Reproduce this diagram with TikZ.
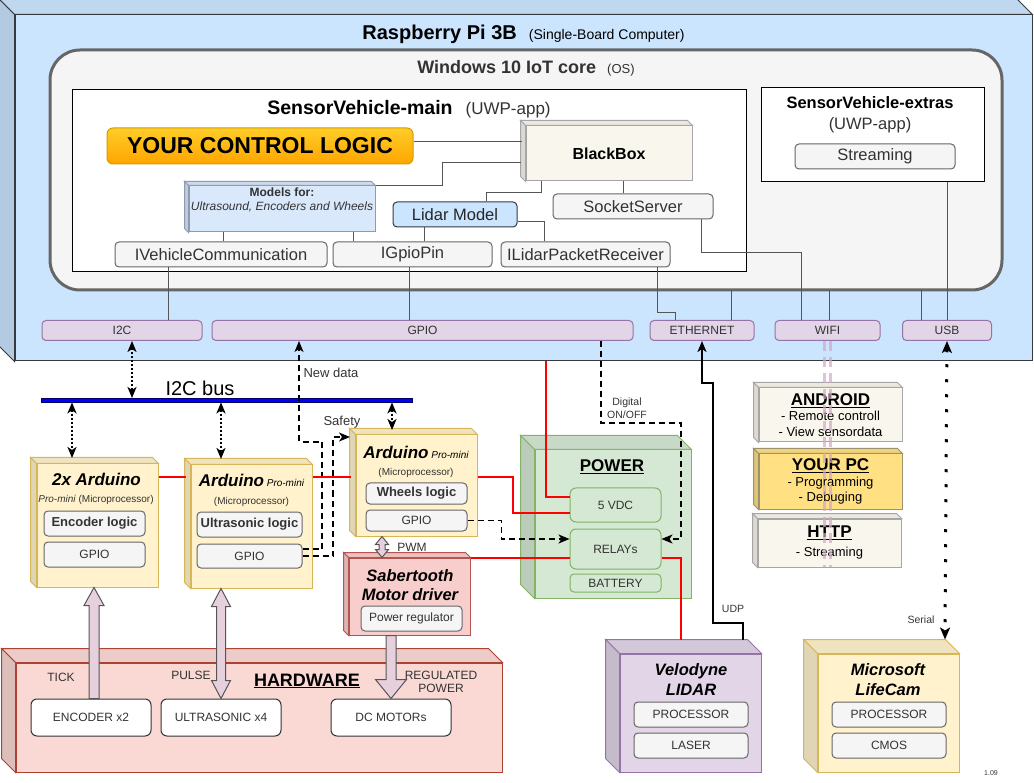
\documentclass[tikz,border=0pt]{standalone}
\usepackage{fontspec}
\setmainfont{Liberation Sans}
\usetikzlibrary{arrows.meta, positioning, calc}

\definecolor{rpifill}{HTML}{CCE5FF}
\definecolor{rpidraw}{HTML}{36393D}
\definecolor{osfill}{HTML}{F5F5F5}
\definecolor{osdraw}{HTML}{666666}
\definecolor{txtgrey}{HTML}{333333}
\definecolor{linkgrey}{HTML}{555555}
\definecolor{portfill}{HTML}{E1D5E7}
\definecolor{portdraw}{HTML}{9673A6}
\definecolor{ardfill}{HTML}{FFF2CC}
\definecolor{arddraw}{HTML}{D6B656}
\definecolor{sabfill}{HTML}{F8CECC}
\definecolor{sabdraw}{HTML}{B85450}
\definecolor{hwfill}{HTML}{FAD9D5}
\definecolor{hwdraw}{HTML}{AE4132}
\definecolor{pwrfill}{HTML}{D5E8D4}
\definecolor{pwrdraw}{HTML}{82B366}
\definecolor{bbfill}{HTML}{F9F7ED}
\definecolor{bbdraw}{HTML}{A6A6A6}
\definecolor{pcdraw}{HTML}{9C9270}
\definecolor{modfill}{HTML}{DAE8FC}
\definecolor{moddraw}{HTML}{8C9BAD}
\definecolor{pcfill}{HTML}{FFE083}
\definecolor{arrowfill}{HTML}{E6D0DE}
\definecolor{wifipink}{HTML}{D4A5C8}
\definecolor{logictop}{HTML}{FFCD28}
\definecolor{logicbot}{HTML}{FFA500}
\definecolor{logicdraw}{HTML}{D79B00}
\definecolor{busblue}{HTML}{0000FF}
\definecolor{busdark}{HTML}{000066}

\newcommand{\fsz}[2]{\fontsize{#1}{#2}\selectfont}

% side faces of a box drawn as a cube
\newcommand{\cubesides}[4]{%
  \draw[draw=#4, fill=#3!94!black] (#1.north west) -- ++(-#2,#2) -- ([shift={(-#2,#2)}]#1.north east) -- (#1.north east) -- cycle;
  \draw[draw=#4, fill=#3!88!black] (#1.north west) -- ++(-#2,#2) -- ([shift={(-#2,#2)}]#1.south west) -- (#1.south west) -- cycle;
}
% hollow block arrows
\newcommand{\fatarrow}[5]{%
  \draw[fatarrow] let \p1=(#1), \p2=(#2), \n1={sign(\y2-(\y1))} in
    (\x2,\y2) -- ({\x2+#4},{\y2-(\n1)*#5}) -- ({\x2+#3},{\y2-(\n1)*#5}) -- ({\x1+#3},\y1)
    -- ({\x1-#3},\y1) -- ({\x2-#3},{\y2-(\n1)*#5}) -- ({\x2-#4},{\y2-(\n1)*#5}) -- cycle;
}
\newcommand{\fatdouble}[5]{%
  \draw[fatarrow] let \p1=(#1), \p2=(#2), \n1={sign(\y2-(\y1))} in
    (\x2,\y2) -- ({\x2+#4},{\y2-(\n1)*#5}) -- ({\x2+#3},{\y2-(\n1)*#5}) -- ({\x1+#3},{\y1+(\n1)*#5})
    -- ({\x1+#4},{\y1+(\n1)*#5}) -- (\x1,\y1) -- ({\x1-#4},{\y1+(\n1)*#5}) -- ({\x1-#3},{\y1+(\n1)*#5})
    -- ({\x2-#3},{\y2-(\n1)*#5}) -- ({\x2-#4},{\y2-(\n1)*#5}) -- cycle;
}

\tikzstyle{face} = [rectangle, draw, inner sep=0pt]
\tikzstyle{sub} = [rectangle, rounded corners=4pt, draw=osdraw, fill=osfill, text=txtgrey, inner sep=0pt, minimum height=25pt]
\tikzstyle{port} = [rectangle, rounded corners=4pt, draw=portdraw, fill=portfill, text=txtgrey, inner sep=0pt, minimum height=20pt, font=\fsz{12}{14}]
\tikzstyle{pwrpart} = [rectangle, rounded corners=6pt, draw=pwrdraw, fill=pwrfill, text=txtgrey, inner sep=0pt, minimum width=91pt, font=\fsz{12}{14}]
\tikzstyle{hwpart} = [rectangle, rounded corners=6pt, draw=txtgrey, fill=white, text=txtgrey, inner sep=0pt, minimum width=120pt, minimum height=37pt, font=\fsz{12}{14}]
\tikzstyle{lbl} = [inner sep=0pt, text=txtgrey]
\tikzstyle{link} = [draw=linkgrey, line width=1pt]
\tikzstyle{power} = [draw=red, line width=2pt]
\tikzstyle{dataflow} = [draw=black, line width=1.8pt, dash pattern=on 6pt off 4pt, ->, >={Stealth[length=11pt, width=9pt, inset=3pt]}]
\tikzstyle{i2clink} = [draw=black, line width=2pt, dash pattern=on 2pt off 2pt, <->, >={Stealth[length=11pt, width=9pt, inset=3pt]}]
\tikzstyle{ethlink} = [draw=black, line width=2pt, ->, >={Stealth[length=11pt, width=9pt, inset=3pt]}]
\tikzstyle{serial} = [draw=black, line width=3pt, dash pattern=on 3pt off 12pt, <->, >={Stealth[length=12pt, width=10pt, inset=3pt]}]
\tikzstyle{wifilink} = [draw=wifipink, draw opacity=0.7, line width=3pt, dash pattern=on 10pt off 6pt]
\tikzstyle{fatarrow} = [draw=linkgrey, fill=arrowfill, line width=1pt]

\begin{document}
\begin{tikzpicture}[x=1pt, y=-1pt, line width=1pt]
\useasboundingbox (0,0) rectangle (1034,783);

	% Raspberry Pi
	\node (rpi) [face, draw=rpidraw, fill=rpifill, minimum width=1017pt, minimum height=346pt] at (523.5,188) {};
	\cubesides{rpi}{15pt}{rpifill}{rpidraw}
	\node (rpi_title) [lbl, text=black] at (523.5,34) {{\bfseries\fsz{20}{24}Raspberry Pi 3B}\hspace{12pt}{\fsz{14}{17}(Single-Board Computer)}};

	% OS
	\node (win) [face, rounded corners=30pt, draw=osdraw, fill=osfill, line width=3pt, minimum width=952pt, minimum height=240pt] at (526,170) {};
	\node (win_title) [lbl] at (526,68) {{\bfseries\fsz{18}{22}Windows 10 IoT core}\hspace{11pt}{\fsz{13}{16}(OS)}};

	% Main app
	\node (svmain) [face, draw=black, fill=white, minimum width=674pt, minimum height=182pt] at (409,181) {};
	\node (svmain_title) [lbl, text=black] at (409,109) {{\bfseries\fsz{19.5}{23}SensorVehicle-main}\hspace{13pt}{\color{txtgrey}\fsz{17}{20}(UWP-app)}};
	\node (logic) [face, rounded corners=6pt, draw=logicdraw, top color=logictop, bottom color=logicbot, minimum width=306pt, minimum height=36pt, font=\bfseries\fsz{23}{27}] at (260,146) {YOUR CONTROL LOGIC};
	\node (bb) [face, draw=bbdraw, fill=bbfill, minimum width=166pt, minimum height=55pt, font=\bfseries\fsz{16}{19}] at (609,153.5) {BlackBox};
	\cubesides{bb}{5pt}{bbfill}{bbdraw}
	\node (models) [face, draw=moddraw, fill=modfill, minimum width=186pt, minimum height=46pt] at (282,209) {};
	\cubesides{models}{4pt}{modfill}{moddraw}
	\node (models_txt) [lbl, align=center, font=\fsz{12}{14}] at (282,200) {{\bfseries Models for:}\\{\itshape Ultrasound, Encoders and Wheels}};
	\node (lidarmodel) [sub, draw=rpidraw, fill=rpifill, text=black!85, minimum width=124pt, font=\fsz{16.5}{19}] at (455,214.5) {Lidar Model};
	\node (socket) [sub, minimum width=160pt, font=\fsz{16.5}{19}] at (633,206.5) {SocketServer};
	\node (ivc) [sub, minimum width=212pt, font=\fsz{16.5}{19}] at (221,254.5) {IVehicleCommunication};
	\node (igpio) [sub, minimum width=159pt, font=\fsz{16.5}{19}] at (412.5,254.5) {IGpioPin};
	\node (ilidar) [sub, minimum width=169pt, font=\fsz{16.5}{19}] at (585.5,254.5) {ILidarPacketReceiver};

	% Extras app
	\node (extras) [face, draw=black, fill=white, minimum width=223pt, minimum height=94pt] at (872.5,135) {};
	\node (extras_title) [lbl, text=black, align=center, font=\fsz{16.5}{21}] at (870,114.5) {{\bfseries SensorVehicle-extras}\\{\color{txtgrey}(UWP-app)}};
	\node (streaming) [sub, minimum width=160pt, font=\fsz{16.5}{19}] at (875,156.5) {Streaming};

	% Ports
	\node (i2c) [port, minimum width=160pt] at (122,330.5) {I2C};
	\node (gpio) [port, minimum width=421pt] at (422.5,330.5) {GPIO};
	\node (eth) [port, minimum width=104pt] at (702,330.5) {ETHERNET};
	\node (wifi) [port, minimum width=105pt] at (827.5,330.5) {WIFI};
	\node (usb) [port, minimum width=89pt] at (947,330.5) {USB};

	% Software links
	\draw[link] ([yshift=4pt]logic.east) -- ++(108,0);
	\draw[link] (models.north east) -- ++(67,0) |- ([xshift=-5pt,yshift=-9.5pt]bb.west);
	\draw[link] ([xshift=-68pt]bb.south) -- ++(0,11) -| ([xshift=31pt]lidarmodel.north);
	\draw[link] ([xshift=14pt]bb.south) -- ([xshift=-10pt]socket.north);
	\draw[link] ([xshift=-59pt]models.south) -- ([xshift=2pt]ivc.north);
	\draw[link] ([xshift=71pt]models.south) -- ([xshift=-59.5pt]igpio.north);
	\draw[link] ([xshift=-31pt]lidarmodel.south) -- ([xshift=11.5pt]igpio.north);
	\draw[link] ([yshift=-7pt]lidarmodel.east) -| ([xshift=-41.5pt]ilidar.north);
	\draw[link] ([xshift=-53pt]ivc.south) -- ([xshift=46pt]i2c.north);
	\draw[link] ([xshift=-3.5pt]igpio.south) -- ([xshift=-13.5pt]gpio.north);
	\draw[link] ([xshift=71.5pt]ilidar.south) -- ++(0,45) -| ([xshift=-27pt]eth.north);
	\draw[link] ([xshift=68pt]socket.south) -- ++(0,33) -| ([xshift=-26.5pt]wifi.north);
	\draw[link] ([xshift=29pt]eth.north) -- ++(0,-30);
	\draw[link] ([xshift=1.5pt]wifi.north) -- ++(0,-30);
	\draw[link] ([xshift=-26pt]usb.north) -- ++(0,-30);
	\draw[link] (usb.north) -- ++(0,-138);

	% I2C bus
	\node (bus) [rectangle, draw=busdark, fill=busblue, line width=0.8pt, minimum width=371pt, minimum height=4pt, inner sep=0pt] at (226.5,400) {};
	\node (bus_lbl) [lbl, text=black, font=\fsz{20}{24}] at (200,388) {I2C bus};

	% Arduinos
	\node (ard2x) [face, draw=arddraw, fill=ardfill, minimum width=121pt, minimum height=123pt] at (97.5,525.5) {};
	\cubesides{ard2x}{6pt}{ardfill}{arddraw}
	\node (ard2x_title) [lbl, text=black, font=\bfseries\itshape\fsz{17}{20}] at (96.5,479) {2x Arduino};
	\node (ard2x_sub) [lbl, font=\fsz{10}{12}] at (96,500) {\textit{Pro-mini} (Microprocessor)};
	\node (enc_logic) [sub, minimum width=101pt, font=\bfseries\fsz{13}{16}] at (94.5,523.5) {Encoder logic};
	\node (enc_gpio) [sub, minimum width=101pt, font=\fsz{12}{14}] at (94.5,554.5) {GPIO};

	\node (ardmid) [face, draw=arddraw, fill=ardfill, minimum width=121pt, minimum height=123pt] at (251.5,526.5) {};
	\cubesides{ardmid}{6pt}{ardfill}{arddraw}
	\node (ardmid_title) [lbl, text=black] at (251.5,480) {{\bfseries\itshape\fsz{17}{20}Arduino} {\itshape\fsz{10}{12}Pro-mini}};
	\node (ardmid_sub) [lbl, font=\fsz{10}{12}] at (251.5,502) {(Microprocessor)};
	\node (ult_logic) [sub, minimum width=105pt, font=\bfseries\fsz{13}{16}] at (249.5,524.5) {Ultrasonic logic};
	\node (ult_gpio) [sub, minimum width=105pt, minimum height=24pt, font=\fsz{12}{14}] at (249.5,556) {GPIO};

	\node (ardr) [face, draw=arddraw, fill=ardfill, minimum width=121pt, minimum height=101pt] at (416.5,485.5) {};
	\cubesides{ardr}{6pt}{ardfill}{arddraw}
	\node (ardr_title) [lbl, text=black] at (416,452) {{\bfseries\itshape\fsz{17}{20}Arduino} {\itshape\fsz{10}{12}Pro-mini}};
	\node (ardr_sub) [lbl, font=\fsz{10}{12}] at (416,473) {(Microprocessor)};
	\node (wheel_logic) [sub, minimum width=101pt, minimum height=21pt, font=\bfseries\fsz{13}{16}] at (416.5,493.5) {Wheels logic};
	\node (wheel_gpio) [sub, minimum width=101pt, minimum height=21pt, font=\fsz{12}{14}] at (416.5,520.5) {GPIO};

	% Motor driver
	\node (sab) [face, draw=sabdraw, fill=sabfill, minimum width=121pt, minimum height=77pt] at (409.5,596.5) {};
	\cubesides{sab}{5pt}{sabfill}{sabdraw}
	\node (sab_title) [lbl, text=black, align=center, font=\bfseries\itshape\fsz{16.5}{19}] at (410,585.5) {Sabertooth\\Motor driver};
	\node (preg) [sub, minimum width=101pt, font=\fsz{12}{14}] at (411.5,618.5) {Power regulator};

	% Power
	\node (power) [face, draw=pwrdraw, fill=pwrfill, minimum width=156pt, minimum height=148pt] at (613,524) {};
	\cubesides{power}{14pt}{pwrfill}{pwrdraw}
	\node (power_title) [lbl, text=black, font=\bfseries\fsz{17}{20}] at (612,467) {\underline{POWER}};
	\node (vdc) [pwrpart, minimum height=34pt] at (615.5,505) {5 VDC};
	\node (relay) [pwrpart, minimum height=40pt] at (615.5,549) {RELAYs};
	\node (battery) [pwrpart, minimum height=18pt, rounded corners=4pt] at (615.5,583) {BATTERY};

	% Remote clients
	\node (android) [face, draw=bbdraw, fill=bbfill, minimum width=143pt, minimum height=54pt, align=center, text=black, font=\fsz{13}{15.5}] at (830.5,415) {{\bfseries\fsz{17}{15.5}\underline{ANDROID}}\\- Remote controll\\- View sensordata};
	\cubesides{android}{5pt}{bbfill}{bbdraw}
	\node (pc) [face, draw=pcdraw, fill=pcfill, minimum width=143pt, minimum height=55pt, align=center, text=black, font=\fsz{13}{15.5}] at (830.5,481.5) {{\bfseries\fsz{17}{15.5}\underline{YOUR PC}}\\- Programming\\- Debuging};
	\cubesides{pc}{5pt}{pcfill}{pcdraw}
	\node (http) [face, draw=bbdraw, fill=bbfill, minimum width=143pt, minimum height=48pt, align=center, text=black, font=\fsz{13}{19}] at (829.5,543) {{\bfseries\fsz{17}{19}\underline{HTTP}}\\- Streaming};
	\cubesides{http}{5pt}{bbfill}{bbdraw}

	% Hardware
	\node (hw) [face, draw=hwdraw, fill=hwfill, minimum width=486pt, minimum height=109pt] at (259,717.5) {};
	\cubesides{hw}{14pt}{hwfill}{hwdraw}
	\node (hw_title) [lbl, text=black, font=\bfseries\fsz{18}{21}] at (307,681) {\underline{HARDWARE}};
	\node (enc) [hwpart] at (91,717.5) {ENCODER x2};
	\node (ult) [hwpart] at (221,717.5) {ULTRASONIC x4};
	\node (dcm) [hwpart] at (391,717.5) {DC MOTORs};
	\node (tick_lbl) [lbl, font=\fsz{12}{14}] at (61,677) {TICK};
	\node (pulse_lbl) [lbl, font=\fsz{12}{14}] at (191,675) {PULSE};
	\node (regpow_lbl) [lbl, align=center, font=\fsz{12}{13}] at (441,681.5) {REGULATED\\POWER};

	% Lidar
	\node (velo) [face, draw=portdraw, fill=portfill, minimum width=141pt, minimum height=118pt] at (690.5,713) {};
	\cubesides{velo}{14pt}{portfill}{portdraw}
	\node (velo_title) [lbl, text=black, align=center, font=\bfseries\itshape\fsz{16.5}{20}] at (691,680) {Velodyne\\LIDAR};
	\node (velo_proc) [sub, minimum width=114pt, font=\fsz{12}{14}] at (691,714.5) {PROCESSOR};
	\node (velo_laser) [sub, minimum width=114pt, font=\fsz{12}{14}] at (691,745.5) {LASER};

	% Camera
	\node (cam) [face, draw=arddraw, fill=ardfill, minimum width=141pt, minimum height=118pt] at (888.5,713) {};
	\cubesides{cam}{14pt}{ardfill}{arddraw}
	\node (cam_title) [lbl, text=black, align=center, font=\bfseries\itshape\fsz{16.5}{20}] at (888,680) {Microsoft\\LifeCam};
	\node (cam_proc) [sub, minimum width=114pt, font=\fsz{12}{14}] at (889,714.5) {PROCESSOR};
	\node (cam_cmos) [sub, minimum width=114pt, font=\fsz{12}{14}] at (889,745.5) {CMOS};

	% I2C arrows
	\coordinate (ard2x_in) at (72,458);
	\coordinate (ardmid_in) at (221,459);
	\coordinate (ardr_in) at (392,430);
	\draw[i2clink] ([xshift=10pt]i2c.south) -- ++(0,57);
	\draw[i2clink] (bus.south -| ard2x_in) -- (ard2x_in);
	\draw[i2clink] (bus.south -| ardmid_in) -- (ardmid_in);
	\draw[i2clink] (bus.south -| ardr_in) -- (ardr_in);

	% Data lines
	\coordinate (newdata_in) at (299,341);
	\coordinate (safety_in) at (350,437);
	\draw[dataflow] ([yshift=7pt]ult_gpio.east) -| (322,442) -| (newdata_in);
	\draw[dataflow] (ult_gpio.east) -| (333,437) -- (safety_in);
	\draw[dataflow] (wheel_gpio.east) -- ++(34,0) |- ([yshift=10pt]relay.west);
	\draw[dataflow] ([xshift=178.5pt]gpio.south) |- (681,423) |- ([yshift=10pt]relay.east);
	\node (newdata_lbl) [lbl, anchor=west, font=\fsz{13}{15}] at (303,373) {New data};
	\node (safety_lbl) [lbl, font=\fsz{13}{15}] at (342,422) {Safety};
	\node (digital_lbl) [lbl, align=center, font=\fsz{10.5}{13}] at (627,408.5) {Digital\\ON/OFF};

	% Power lines
	\draw[power] ([xshift=22.5pt]rpi.south) |- ([yshift=8pt]vdc.west);
	\draw[power] ([yshift=48.5pt]ard2x.east) -- ++(27,0);
	\draw[power] ([yshift=49.5pt]ardmid.east) -- ++(38,0);
	\draw[power] ([yshift=8.5pt]ardr.east) -- ++(35,0) |- ([yshift=-8pt]vdc.west);
	\draw[power] (sab.north east) -- (sab.north east -| relay.west);
	\draw[power] (relay.east |- sab.north east) -| ([xshift=-9.5pt,yshift=14pt]velo.north);

	% Ethernet, serial, wifi
	\draw[ethlink] ([xshift=52pt,yshift=14pt]velo.north) -- ++(0,-17) -| (713,383) -| (eth.south);
	\node (udp_lbl) [lbl, font=\fsz{10.5}{13}] at (733,609) {UDP};
	\draw[serial] (usb.south) -- ([xshift=56.5pt,yshift=14pt]cam.north);
	\node (serial_lbl) [lbl, font=\fsz{10.5}{13}] at (921,620) {Serial};
	\draw[wifilink] ([xshift=-3pt]wifi.south) -- ++(0,226);
	\draw[wifilink] ([xshift=3pt]wifi.south) -- ++(0,226);

	% Block arrows
	\coordinate (enc_up) at ([xshift=3pt]enc.north);
	\coordinate (pwm_top) at ([xshift=-34.5pt]ardr.south);
	\fatarrow{enc_up}{enc_up |- ard2x.south}{5pt}{10pt}{18pt}
	\fatdouble{ult.north}{ult.north |- ardmid.south}{4.5pt}{9.5pt}{18pt}
	\fatarrow{dcm.north |- sab.south}{dcm.north}{5pt}{15.5pt}{19pt}
	\fatdouble{pwm_top}{pwm_top |- sab.north}{3pt}{6.5pt}{8pt}
	\node (pwm_lbl) [lbl, font=\fsz{12}{14}] at (412,547) {PWM};

	\node (version) [lbl, font=\fsz{7}{8}] at (991,773) {1.09};

\end{tikzpicture}
\end{document}
